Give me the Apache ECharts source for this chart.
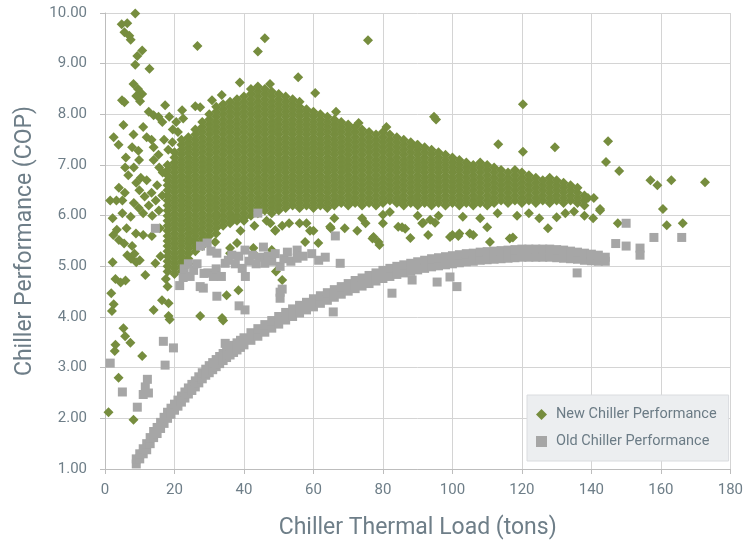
<!DOCTYPE html>
<html>
<head>
<meta charset="utf-8">
<script src="https://cdn.jsdelivr.net/npm/echarts@6/dist/echarts.min.js"></script>
<style>
html,body{margin:0;padding:0;background:#fff;}
#chart{width:746px;height:550px;}
</style>
</head>
<body>
<div id="chart"></div>
<script>
// ---- Data ----
// New chiller: dense core, one column per load value: [load, COP, COP, ...]
const newChillerCore = [
[18,4.9,5.0,5.1,5.2,5.3,5.4,5.5,5.6,5.7,5.8,5.9,6.0,6.1,6.2,6.3,6.4,6.5,6.6,6.7,6.8,6.9,7.0],
[20,4.85,4.95,5.05,5.15,5.25,5.35,5.45,5.55,5.65,5.75,5.85,5.95,6.05,6.15,6.25,6.35,6.45,6.55,6.65,6.75,6.85,6.95,7.05,7.15,7.25],
[22,4.9,5.0,5.1,5.2,5.3,5.4,5.5,5.6,5.7,5.8,5.9,6.0,6.1,6.2,6.3,6.4,6.5,6.6,6.7,6.8,6.9,7.0,7.1,7.2,7.3,7.4,7.5],
[24,5.05,5.15,5.25,5.35,5.45,5.55,5.65,5.75,5.85,5.95,6.05,6.15,6.25,6.35,6.45,6.55,6.65,6.75,6.85,6.95,7.05,7.15,7.25,7.35,7.45,7.55],
[26,5.3,5.4,5.5,5.6,5.7,5.8,5.9,6.0,6.1,6.2,6.3,6.4,6.5,6.6,6.7,6.8,6.9,7.0,7.1,7.2,7.3,7.4,7.5,7.6,7.7],
[28,5.45,5.55,5.65,5.75,5.85,5.95,6.05,6.15,6.25,6.35,6.45,6.55,6.65,6.75,6.85,6.95,7.05,7.15,7.25,7.35,7.45,7.55,7.65,7.75,7.85],
[30,5.6,5.7,5.8,5.9,6.0,6.1,6.2,6.3,6.4,6.5,6.6,6.7,6.8,6.9,7.0,7.1,7.2,7.3,7.4,7.5,7.6,7.7,7.8,7.9,8.0],
[32,5.65,5.75,5.85,5.95,6.05,6.15,6.25,6.35,6.45,6.55,6.65,6.75,6.85,6.95,7.05,7.15,7.25,7.35,7.45,7.55,7.65,7.75,7.85,7.95,8.05,8.15],
[34,5.8,5.9,6.0,6.1,6.2,6.3,6.4,6.5,6.6,6.7,6.8,6.9,7.0,7.1,7.2,7.3,7.4,7.5,7.6,7.7,7.8,7.9,8.0,8.1,8.2],
[36,5.85,5.95,6.05,6.15,6.25,6.35,6.45,6.55,6.65,6.75,6.85,6.95,7.05,7.15,7.25,7.35,7.45,7.55,7.65,7.75,7.85,7.95,8.05,8.15,8.25],
[38,5.9,6.0,6.1,6.2,6.3,6.4,6.5,6.6,6.7,6.8,6.9,7.0,7.1,7.2,7.3,7.4,7.5,7.6,7.7,7.8,7.9,8.0,8.1,8.2,8.3],
[40,5.95,6.05,6.15,6.25,6.35,6.45,6.55,6.65,6.75,6.85,6.95,7.05,7.15,7.25,7.35,7.45,7.55,7.65,7.75,7.85,7.95,8.05,8.15,8.25,8.35],
[42,6.0,6.1,6.2,6.3,6.4,6.5,6.6,6.7,6.8,6.9,7.0,7.1,7.2,7.3,7.4,7.5,7.6,7.7,7.8,7.9,8.0,8.1,8.2,8.3,8.4,8.5],
[44,6.05,6.15,6.25,6.35,6.45,6.55,6.65,6.75,6.85,6.95,7.05,7.15,7.25,7.35,7.45,7.55,7.65,7.75,7.85,7.95,8.05,8.15,8.25,8.35,8.45,8.55],
[46,6.1,6.2,6.3,6.4,6.5,6.6,6.7,6.8,6.9,7.0,7.1,7.2,7.3,7.4,7.5,7.6,7.7,7.8,7.9,8.0,8.1,8.2,8.3,8.4,8.5],
[48,6.05,6.15,6.25,6.35,6.45,6.55,6.65,6.75,6.85,6.95,7.05,7.15,7.25,7.35,7.45,7.55,7.65,7.75,7.85,7.95,8.05,8.15,8.25,8.35,8.45],
[50,6.1,6.2,6.3,6.4,6.5,6.6,6.7,6.8,6.9,7.0,7.1,7.2,7.3,7.4,7.5,7.6,7.7,7.8,7.9,8.0,8.1,8.2,8.3,8.4],
[52,6.15,6.25,6.35,6.45,6.55,6.65,6.75,6.85,6.95,7.05,7.15,7.25,7.35,7.45,7.55,7.65,7.75,7.85,7.95,8.05,8.15,8.25,8.35],
[54,6.2,6.3,6.4,6.5,6.6,6.7,6.8,6.9,7.0,7.1,7.2,7.3,7.4,7.5,7.6,7.7,7.8,7.9,8.0,8.1,8.2,8.3],
[56,6.15,6.25,6.35,6.45,6.55,6.65,6.75,6.85,6.95,7.05,7.15,7.25,7.35,7.45,7.55,7.65,7.75,7.85,7.95,8.05,8.15,8.25],
[58,6.2,6.3,6.4,6.5,6.6,6.7,6.8,6.9,7.0,7.1,7.2,7.3,7.4,7.5,7.6,7.7,7.8,7.9,8.0,8.1],
[60,6.15,6.25,6.35,6.45,6.55,6.65,6.75,6.85,6.95,7.05,7.15,7.25,7.35,7.45,7.55,7.65,7.75,7.85,7.95,8.05],
[62,6.2,6.3,6.4,6.5,6.6,6.7,6.8,6.9,7.0,7.1,7.2,7.3,7.4,7.5,7.6,7.7,7.8,7.9,8.0],
[64,6.15,6.25,6.35,6.45,6.55,6.65,6.75,6.85,6.95,7.05,7.15,7.25,7.35,7.45,7.55,7.65,7.75,7.85,7.95],
[66,6.2,6.3,6.4,6.5,6.6,6.7,6.8,6.9,7.0,7.1,7.2,7.3,7.4,7.5,7.6,7.7,7.8,7.9],
[68,6.25,6.35,6.45,6.55,6.65,6.75,6.85,6.95,7.05,7.15,7.25,7.35,7.45,7.55,7.65,7.75,7.85],
[70,6.2,6.3,6.4,6.5,6.6,6.7,6.8,6.9,7.0,7.1,7.2,7.3,7.4,7.5,7.6,7.7,7.8],
[72,6.25,6.35,6.45,6.55,6.65,6.75,6.85,6.95,7.05,7.15,7.25,7.35,7.45,7.55,7.65,7.75],
[74,6.2,6.3,6.4,6.5,6.6,6.7,6.8,6.9,7.0,7.1,7.2,7.3,7.4,7.5,7.6,7.7],
[76,6.25,6.35,6.45,6.55,6.65,6.75,6.85,6.95,7.05,7.15,7.25,7.35,7.45,7.55,7.65],
[78,6.2,6.3,6.4,6.5,6.6,6.7,6.8,6.9,7.0,7.1,7.2,7.3,7.4,7.5,7.6],
[80,6.25,6.35,6.45,6.55,6.65,6.75,6.85,6.95,7.05,7.15,7.25,7.35,7.45,7.55,7.65],
[82,6.3,6.4,6.5,6.6,6.7,6.8,6.9,7.0,7.1,7.2,7.3,7.4,7.5,7.6],
[84,6.25,6.35,6.45,6.55,6.65,6.75,6.85,6.95,7.05,7.15,7.25,7.35,7.45,7.55],
[86,6.2,6.3,6.4,6.5,6.6,6.7,6.8,6.9,7.0,7.1,7.2,7.3,7.4,7.5],
[88,6.25,6.35,6.45,6.55,6.65,6.75,6.85,6.95,7.05,7.15,7.25,7.35,7.45],
[90,6.2,6.3,6.4,6.5,6.6,6.7,6.8,6.9,7.0,7.1,7.2,7.3,7.4],
[92,6.25,6.35,6.45,6.55,6.65,6.75,6.85,6.95,7.05,7.15,7.25,7.35],
[94,6.2,6.3,6.4,6.5,6.6,6.7,6.8,6.9,7.0,7.1,7.2,7.3],
[96,6.25,6.35,6.45,6.55,6.65,6.75,6.85,6.95,7.05,7.15,7.25],
[98,6.2,6.3,6.4,6.5,6.6,6.7,6.8,6.9,7.0,7.1,7.2],
[100,6.25,6.35,6.45,6.55,6.65,6.75,6.85,6.95,7.05,7.15],
[102,6.2,6.3,6.4,6.5,6.6,6.7,6.8,6.9,7.0,7.1],
[104,6.25,6.35,6.45,6.55,6.65,6.75,6.85,6.95,7.05],
[106,6.2,6.3,6.4,6.5,6.6,6.7,6.8,6.9,7.0],
[108,6.25,6.35,6.45,6.55,6.65,6.75,6.85,6.95,7.05],
[110,6.2,6.3,6.4,6.5,6.6,6.7,6.8,6.9,7.0],
[112,6.25,6.35,6.45,6.55,6.65,6.75,6.85,6.95],
[114,6.3,6.4,6.5,6.6,6.7,6.8,6.9],
[116,6.25,6.35,6.45,6.55,6.65,6.75,6.85],
[118,6.3,6.4,6.5,6.6,6.7,6.8,6.9],
[120,6.25,6.35,6.45,6.55,6.65,6.75,6.85],
[122,6.3,6.4,6.5,6.6,6.7,6.8],
[124,6.25,6.35,6.45,6.55,6.65,6.75],
[126,6.3,6.4,6.5,6.6,6.7],
[128,6.25,6.35,6.45,6.55,6.65,6.75],
[130,6.3,6.4,6.5,6.6,6.7],
[132,6.25,6.35,6.45,6.55,6.65],
[134,6.3,6.4,6.5,6.6],
[136,6.25,6.35,6.45,6.55],
[138,6.2,6.3,6.4]
];

// New chiller: scattered points [load, COP]
const newChillerScatter = [
[8.7,9.99],[4.8,9.78],[6.4,9.8],[5.6,9.62],[7.0,9.55],[7.4,9.47],[10.7,9.26],[9.3,9.15],[8.7,8.98],[12.8,8.9],[26.6,9.35],
[8.2,8.6],[9.5,8.5],[10.7,8.4],[9.0,8.36],[4.9,8.28],[5.6,8.24],[10.1,8.26],[17.3,8.18],[22.2,8.08],[26,8.16],[27.4,8.14],[30.8,8.28],[33.6,8.38],[38.8,8.63],
[12.6,8.05],[14,7.98],[15.4,7.95],[16.5,7.85],[18.5,7.95],[20.5,7.85],[21,7.65],[19.5,7.7],[22.5,7.92],
[5.3,7.79],[2.5,7.55],[3.9,7.4],[8.2,7.6],[7.8,7.35],[9.6,7.28],[11,7.75],[12,7.55],[13.4,7.5],[14,7.35],[15.4,7.2],[17,7.5],[18.2,7.3],[19.4,7.45],
[6,7.15],[9.8,7.1],[5.8,6.95],[8.3,6.95],[14,7.1],[15.6,6.95],[16.6,6.85],[6.7,6.8],[10.3,6.75],[9,6.65],[12,6.7],[4,6.55],[5.7,6.45],[9.9,6.5],[11.4,6.38],[13.4,6.45],[15,6.6],[16.5,6.4],
[3.3,6.3],[5,6.3],[8.3,6.25],[9.7,6.15],[12.6,6.2],[14.6,6.3],[5,6.05],[7.4,5.98],[11,6.05],[13.6,6.0],[15.5,6.1],[1.5,6.3],[2.2,5.95],
[3.4,5.72],[6.2,5.75],[8.9,5.65],[11,5.62],[13.5,5.6],[15.8,5.75],[2.4,5.62],[4,5.52],[5.5,5.45],[7.8,5.4],
[6.4,5.22],[7.5,5.15],[8.5,5.25],[10,5.12],[9,5.08],[2.2,5.08],[3,4.75],[4.5,4.68],[5.9,4.72],[11.6,4.83],[14.5,5.06],[16,5.2],
[17.5,4.75],[18,4.6],[1.8,4.47],[2.5,4.25],[2,4.12],[14,4.14],[16.4,4.33],[18.3,4.27],[18.3,4.02],[18.6,3.95],[27.4,4.02],[34,3.93],
[5.3,3.78],[5.8,3.62],[7.3,3.49],[3,3.45],[2.8,3.33],[10.7,3.23],[3.9,2.8],[1,2.12],[8.2,1.97],
[26,5.7],[24.5,5.5],[28,5.4],[31.7,5.48],[36,5.36],[36,5.26],[38,5.46],[42.7,5.36],[42.7,5.26],[48,5.32],[49.2,4.9],[51,4.73],[38.4,4.53],[35,4.43],[33.7,3.98],
[32,6.0],[37,5.95],[40,5.9],[39,5.7],[43,5.8],[46.5,5.9],[49,5.7],[51,5.8],[53,5.85],[56,5.85],[57.6,5.48],[60,5.7],[61.4,5.46],[65,5.75],[66,5.95],[69,5.75],[72.6,5.7],[74,5.95],[77,5.55],[78.7,5.48],[80,5.85],[80,6.02],[82,6.07],
[47.6,5.85],[49,5.71],[58,5.85],[59,5.7],[64.8,5.78],[75,5.85],[77.3,5.58],[79,5.42],[84.4,5.78],[91.3,5.85],[93.6,5.92],[99.3,5.58],[102,5.65],
[85.5,5.77],[86.4,5.74],[87.9,5.56],[90,6.0],[91.6,5.86],[93,5.62],[95,5.86],[96,6.0],[100,5.62],[101.7,5.6],[103,5.98],[105,5.65],[106,5.62],[108,5.95],[110,5.77],[110.8,5.48],[113,6.05],[116.5,5.55],[117.4,5.57],[118.6,6.0],[122,6.05],[125,5.95],[127.5,5.75],[130,5.97],[132.5,6.05],[135,6.08],[138,6.0],[140.5,5.95],[142.5,6.1],
[94.7,7.95],[95.3,7.9],[120.3,8.2],[113.2,7.41],[120.3,7.26],[129.5,7.35],[144.8,7.47],[144.2,7.06],[148,6.88],[157,6.7],[159,6.6],[163,6.7],[172.7,6.66],[160.6,6.13],[161.7,5.81],[166.3,5.85],[147.6,5.85],[142.5,6.13],[139,6.35],[140.7,6.35],
[75.7,9.46],[46,9.5],[44,9.24],[55.6,8.73],[47.5,8.6],[60.5,8.42],[66.5,8.05],[73,7.83],[89.8,7.39],[81,7.75]
];

// Old chiller: main band, one column per load value: [load, COP, COP]
const oldChillerBand = [
[9,1.1,1.2],[10,1.2,1.3],[11,1.3,1.4],[12,1.38,1.5],[13,1.5,1.62],[14,1.62,1.74],[15,1.7,1.82],[16,1.8,1.92],[17,1.9,2.02],[18,2.0,2.12],
[19,2.08,2.2],[20,2.16,2.28],[21,2.24,2.36],[22,2.32,2.44],[23,2.4,2.52],[24,2.48,2.6],[25,2.55,2.67],[26,2.62,2.74],[27,2.7,2.82],[28,2.78,2.9],
[29,2.85,2.97],[30,2.9,3.04],[31,2.96,3.1],[32,3.02,3.16],[33,3.08,3.22],[34,3.14,3.28],[35,3.2,3.34],[36,3.25,3.39],[37,3.3,3.44],[38,3.35,3.49],
[39,3.4,3.54],[40,3.45,3.59],[42,3.54,3.69],[44,3.62,3.77],[46,3.7,3.85],[48,3.78,3.93],[50,3.86,4.01],[52,3.94,4.09],[54,4.01,4.16],[56,4.08,4.23],
[58,4.14,4.29],[60,4.2,4.36],[62,4.27,4.42],[64,4.33,4.48],[66,4.39,4.54],[68,4.45,4.6],[70,4.51,4.66],[72,4.56,4.72],[74,4.61,4.77],[76,4.66,4.82],
[78,4.71,4.87],[80,4.76,4.92],[82,4.8,4.96],[84,4.84,5.0],[86,4.87,5.03],[88,4.9,5.06],[90,4.93,5.09],[92,4.96,5.12],[94,4.99,5.15],[96,5.01,5.17],
[98,5.03,5.19],[100,5.05,5.21],[102,5.07,5.23],[104,5.09,5.25],[106,5.1,5.26],[108,5.12,5.28],[110,5.13,5.29],[112,5.14,5.3],[114,5.15,5.31],[116,5.16,5.32],
[118,5.17,5.33],[120,5.18,5.34],[122,5.18,5.34],[124,5.18,5.34],[126,5.18,5.34],[128,5.18,5.34],[130,5.17,5.33],[132,5.16,5.32],[134,5.15,5.3],[136,5.14,5.28],
[138,5.12,5.26],[140,5.11,5.24],[142,5.1,5.22],[144,5.1,5.18]
];

// Old chiller: scattered points [load, COP]
const oldChillerScatter = [
[1.5,3.09],[5,2.52],[9.3,2.22],[11,2.47],[11.6,2.62],[12.2,2.77],[12.5,2.5],[16.8,3.52],[17.3,3.05],[19.7,3.39],[14.5,5.75],[34.6,3.48],
[32.2,4.41],[38.6,4.22],[40.3,4.14],[28.3,4.57],[50.4,4.49],[50.4,4.37],[51,4.55],[65.7,4.1],[44,6.05],[66.3,5.6],[63.4,5.18],[67.7,5.06],
[82.6,4.47],[88.4,4.73],[95.6,4.69],[101.3,4.6],[99.3,4.79],[135.9,4.87],[150,5.85],[147,5.45],[150,5.4],[154,5.36],[154,5.22],[158,5.57],[166,5.57],
[21.5,4.62],[22.5,4.78],[22.8,4.95],[24,5.05],[24.5,4.8],[25.5,4.92],[26.5,5.05],[27.4,4.6],[28.5,4.86],[29.4,5.46],[29.6,4.87],[30.5,5.3],[31.2,4.8],[32.2,5.26],[32,4.95],[33.5,4.8],[34.6,5.06],[27.5,5.4],
[35.5,5.12],[36.5,5.22],[37.5,5.05],[38.5,5.2],[39.5,4.96],[40.3,5.32],[40.4,4.8],[41.5,5.1],[42.5,5.22],[43.5,5.05],[44.5,5.18],[45.6,5.38],[46,5.06],[47,5.2],[48,5.1],[49,5.25],[50.4,5.0],[51.5,5.15],[52.5,5.28],[53.5,5.1],[55.3,5.32],[55.3,5.16],[57,5.2],[59.5,5.25],[61.5,5.12]
];

const seriesNames = ['New Chiller Performance', 'Old Chiller Performance'];
const xRange = {min: 0, max: 180, step: 20};
const yRange = {min: 1, max: 10, step: 1};

// ---- Build point lists ----
function columnsToPoints(cols) {
  const out = [];
  cols.forEach(c => { for (let i = 1; i < c.length; i++) out.push([c[0], c[i]]); });
  return out;
}
const newPoints = columnsToPoints(newChillerCore).concat(newChillerScatter);
const oldPoints = columnsToPoints(oldChillerBand).concat(oldChillerScatter);

const FONT = "Roboto, 'Noto Sans', sans-serif";
const TXT = '#6e7e88';
const GREEN = '#768d3e';
const GREY = '#a6a6a6';

const chart = echarts.init(document.getElementById('chart'), null, {renderer: 'canvas'});
chart.setOption({
  animation: false,
  backgroundColor: '#ffffff',
  grid: {left: 105, right: 14, top: 13, bottom: 81},
  xAxis: {
    type: 'value', min: xRange.min, max: xRange.max, interval: xRange.step,
    name: 'Chiller Thermal Load (tons)', nameLocation: 'middle', nameGap: 48,
    nameTextStyle: {fontFamily: FONT, fontSize: 23, color: TXT},
    axisLine: {show: true, lineStyle: {color: '#bdbdbd', width: 1}},
    axisTick: {show: true, length: 5, lineStyle: {color: '#bdbdbd'}},
    axisLabel: {fontFamily: FONT, fontSize: 15, color: TXT, margin: 14},
    splitLine: {show: true, lineStyle: {color: '#d4d4d4', width: 1}}
  },
  yAxis: {
    type: 'value', min: yRange.min, max: yRange.max, interval: yRange.step,
    name: 'Chiller Performance (COP)', nameLocation: 'middle', nameGap: 68,
    nameTextStyle: {fontFamily: FONT, fontSize: 23, color: TXT},
    axisLine: {show: true, lineStyle: {color: '#bdbdbd', width: 1}},
    axisTick: {show: true, length: 5, lineStyle: {color: '#bdbdbd'}},
    axisLabel: {fontFamily: FONT, fontSize: 15, color: TXT, margin: 18,
      formatter: v => v.toFixed(2)},
    splitLine: {show: true, lineStyle: {color: '#d4d4d4', width: 1}}
  },
  legend: {
    orient: 'vertical', left: 527, top: 395,
    data: [{name: seriesNames[0], icon: 'diamond'}, {name: seriesNames[1], icon: 'rect'}],
    itemWidth: 11, itemHeight: 11, itemGap: 12,
    padding: [12, 12, 12, 9],
    backgroundColor: '#eceef0', borderColor: '#dadcdf', borderWidth: 1,
    textStyle: {fontFamily: FONT, fontSize: 14.5, color: '#6b7b85', padding: [0, 0, 0, 4]}
  },
  series: [
    {name: seriesNames[0], type: 'scatter', symbol: 'diamond', symbolSize: 10,
     itemStyle: {color: GREEN, opacity: 1}, data: newPoints, silent: true},
    {name: seriesNames[1], type: 'scatter', symbol: 'rect', symbolSize: 9,
     itemStyle: {color: GREY, opacity: 1}, data: oldPoints, silent: true}
  ]
});
</script>
</body>
</html>
